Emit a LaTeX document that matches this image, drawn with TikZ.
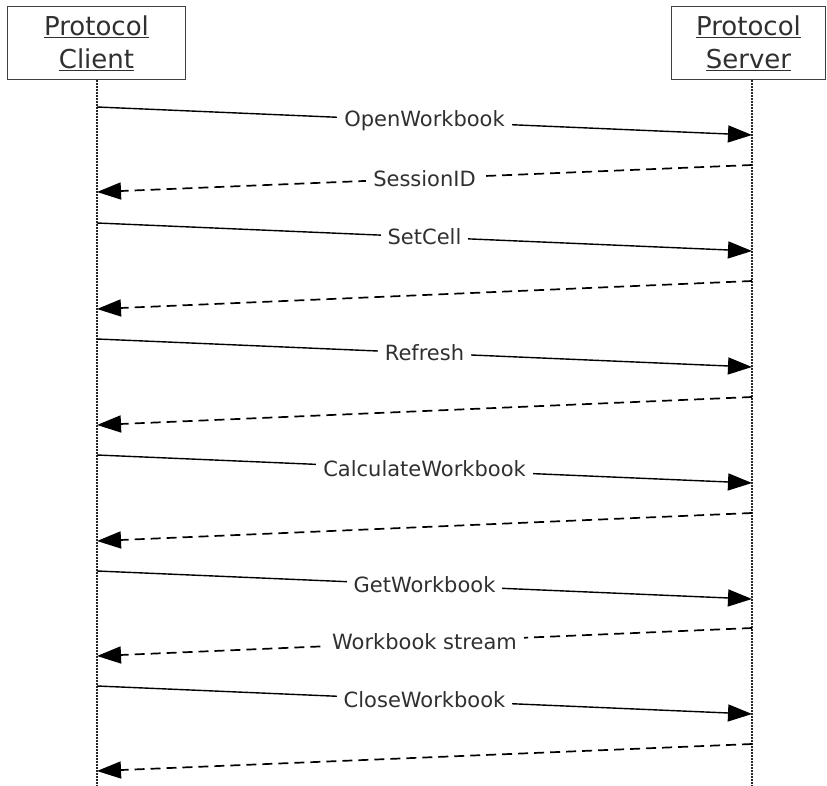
\documentclass[tikz,border=0pt]{standalone}
\usepackage{fontspec}
\setmainfont{DejaVu Sans}
\usetikzlibrary{arrows.meta}
\definecolor{txt}{HTML}{303030}
\tikzset{
  actor/.style={draw=black!75, line width=1.2pt, fill=white, inner sep=0pt,
    minimum height=73pt, align=center, text=txt,
    font=\fontsize{26}{33}\selectfont},
  lifeline/.style={line width=1.6pt, dash pattern=on 1.5pt off 1.5pt, black!85},
  msg/.style={line width=1.4pt, -{Triangle[length=24pt,width=17pt]}},
  ret/.style={msg, line width=1.7pt, dash pattern=on 10pt off 6pt},
  lbl/.style={fill=white, inner xsep=7pt, inner ysep=1pt, text=txt,
    font=\fontsize{21}{24}\selectfont}
}
\begin{document}
\begin{tikzpicture}[x=1pt,y=-1pt]
\useasboundingbox (0,0) rectangle (827,786);
\node[actor, minimum width=178pt] (client) at (96.5,43) {\underline{Protocol}\\\underline{Client}};
\node[actor, minimum width=154pt] (server) at (748.5,43) {\underline{Protocol}\\\underline{Server}};
\coordinate (cend) at (97,786);
\coordinate (send) at (752,786);
\draw[lifeline] (client.south -| cend) -- (cend);
\draw[lifeline] (server.south -| send) -- (send);
% message end points
\foreach \i/\a/\b in {1/107/135, 3/223/251, 5/339/367, 7/455/483, 9/571/599, 11/686/714}{
  \coordinate (c\i) at (97,\a);
  \coordinate (s\i) at (752,\b);
}
\foreach \i/\a/\b in {2/165/192, 4/281/309, 6/397/425, 8/513/541, 10/628/656, 12/744/771}{
  \coordinate (s\i) at (752,\a);
  \coordinate (c\i) at (97,\b);
}
\draw[msg] (c1) -- node[lbl] {OpenWorkbook} (s1);
\draw[ret] (s2) -- node[lbl] {SessionID} (c2);
\draw[msg] (c3) -- node[lbl] {SetCell} (s3);
\draw[ret] (s4) -- (c4);
\draw[msg] (c5) -- node[lbl] {Refresh} (s5);
\draw[ret] (s6) -- (c6);
\draw[msg] (c7) -- node[lbl] {CalculateWorkbook} (s7);
\draw[ret] (s8) -- (c8);
\draw[msg] (c9) -- node[lbl] {GetWorkbook} (s9);
\draw[ret] (s10) -- node[lbl] {Workbook stream} (c10);
\draw[msg] (c11) -- node[lbl] {CloseWorkbook} (s11);
\draw[ret] (s12) -- (c12);
\end{tikzpicture}
\end{document}
